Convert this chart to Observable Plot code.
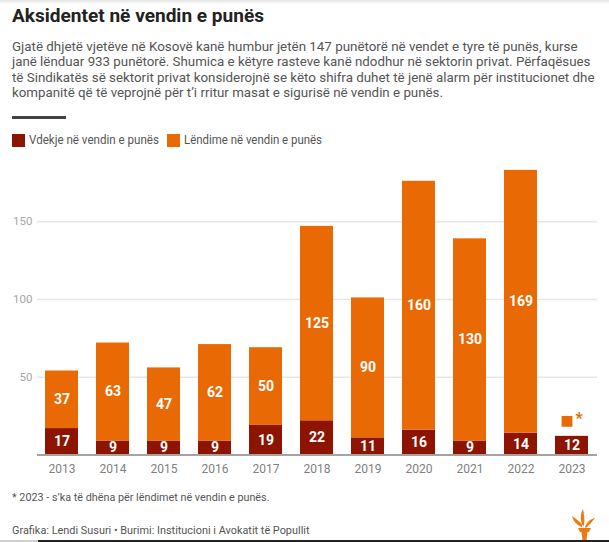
<!DOCTYPE html>
<html>
<head>
<meta charset="utf-8">
<script src="https://cdn.jsdelivr.net/npm/d3@7"></script>
<script src="https://cdn.jsdelivr.net/npm/@observablehq/plot@0.6"></script>
<style>
  html, body { margin:0; padding:0; background:#fff; }
  #wrap { position:relative; width:609px; height:542px; overflow:hidden; font-family:Roboto, "Noto Sans", sans-serif; }
  .t { position:absolute; left:12px; white-space:nowrap; display:inline-block; transform-origin:0 0; }
  #title { top:4.2px; font-size:19px; line-height:24px; font-weight:700; color:#222; }
  .sub { font-size:13px; line-height:15.5px; color:#555; }
  #sep { position:absolute; left:12px; top:116px; width:54px; height:3px; background:#3f4344; }
  .sw { position:absolute; top:134px; width:13px; height:13px; }
  .leg { font-size:12.5px; line-height:15px; color:#555; top:132.2px; }
  .foot { font-size:11px; line-height:13px; color:#555; }
  #chart { position:absolute; left:0; top:150px; }
  #topshade { position:absolute; left:0; top:0; width:609px; height:4px; background:linear-gradient(#e4e4e4, #fff); }
  #botl { position:absolute; left:0; top:540px; width:38px; height:2px; background:#d0d0d0; }
  #botd { position:absolute; left:38px; top:540px; width:571px; height:2px; background:#222; }
  #logo { position:absolute; left:569px; top:507px; }
</style>
</head>
<body>
<div id="wrap">
  <div id="topshade"></div>
  <div id="title" class="t" data-w="252">Aksidentet në vendin e punës</div>
  <div class="t sub" style="top:38.5px" data-w="565.5">Gjatë dhjetë vjetëve në Kosovë kanë humbur jetën 147 punëtorë në vendet e tyre të punës, kurse</div>
  <div class="t sub" style="top:54px" data-w="578.5">janë lënduar 933 punëtorë. Shumica e këtyre rasteve kanë ndodhur në sektorin privat. Përfaqësues</div>
  <div class="t sub" style="top:69.5px" data-w="582.5">të Sindikatës së sektorit privat konsiderojnë se këto shifra duhet të jenë alarm për institucionet dhe</div>
  <div class="t sub" style="top:85px" data-w="431">kompanitë që të veprojnë për t’i rritur masat e sigurisë në vendin e punës.</div>
  <div id="sep"></div>
  <div class="sw" style="left:12px;background:#8c1400"></div>
  <div class="t leg" style="left:29px" data-w="130">Vdekje në vendin e punës</div>
  <div class="sw" style="left:166.5px;background:#e96a05"></div>
  <div class="t leg" style="left:183.5px" data-w="138">Lëndime në vendin e punës</div>
  <div id="chart"></div>
  <div class="t foot" style="top:491.2px" data-w="257.5">* 2023 - s’ka të dhëna për lëndimet në vendin e punës.</div>
  <div class="t foot" style="top:524px" data-w="297.5">Grafika: Lendi Susuri • Burimi: Institucioni i Avokatit të Popullit</div>
  <svg id="logo" width="30" height="34" viewBox="0 0 30 34">
    <g fill="#ee7a12">
      <path d="M13 20 C8 18 4 14 3 9 C7 12 10 14 13 17 Z"/>
      <path d="M14 19 C11 14 11 7 14 2 C15 7 16 12 15 18 Z"/>
      <path d="M16 20 C18 15 21 12 26 11 C23 15 20 18 17 21 Z"/>
      <path d="M9 21 L22 21 L20 25 L11 25 Z"/>
      <path d="M12.5 25 L18.5 25 L17.5 33 L13.5 33 Z"/>
    </g>
  </svg>
  <div id="botl"></div>
  <div id="botd"></div>
</div>
<script>
// ---- data ----
const years = ["2013","2014","2015","2016","2017","2018","2019","2020","2021","2022","2023"];
const deaths = [17, 9, 9, 9, 19, 22, 11, 16, 9, 14, 12];
const injuries = [37, 63, 47, 62, 50, 125, 90, 160, 130, 169, null];
const series = ["Vdekje në vendin e punës", "Lëndime në vendin e punës"];
const colors = ["#8c1400", "#e96a05"];
const yTicks = [50, 100, 150];

// ---- table built from the arrays ----
const table = [];
years.forEach((yr, i) => {
  table.push({year: yr, series: series[0], value: deaths[i]});
  if (injuries[i] != null) table.push({year: yr, series: series[1], value: injuries[i]});
});
const missing = years.map((yr, i) => ({year: yr, value: deaths[i], inj: injuries[i]})).filter(d => d.inj == null);

const chart = Plot.plot({
  width: 609,
  height: 330,
  marginLeft: 37,
  marginRight: 12,
  marginTop: 9,
  marginBottom: 25.5,
  style: {fontFamily: "Roboto, 'Noto Sans', sans-serif", background: "transparent", overflow: "visible"},
  x: {type: "band", domain: years, paddingInner: 0.35, paddingOuter: 0.13, label: null},
  y: {domain: [0, 190], label: null},
  color: {domain: series, range: colors},
  marks: [
    Plot.gridY(yTicks, {stroke: "#e6e6e6", strokeOpacity: 1, strokeWidth: 1.5}),
    Plot.axisY(yTicks, {tickSize: 0, tickPadding: 5, fill: "#a6a6a6", fontSize: 11.5, label: null}),
    Plot.axisX({tickSize: 0, tickPadding: 9, fill: "#808080", fontSize: 12, label: null}),
    Plot.barY(table, {x: "year", y: "value", fill: "series", z: "series", order: series}),
    Plot.ruleY([0], {stroke: "#a3a3a3", strokeWidth: 2}),
    Plot.text(table, Plot.stackY({x: "year", y: "value", z: "series", order: series, text: d => String(d.value),
      fill: "white", fontWeight: "bold", fontSize: 14, style: "letter-spacing:-0.8px"})),
    Plot.dot(missing, {x: "year", y: "value", symbol: "square", r: 6.1, fill: colors[1], stroke: "none", dx: -5, dy: -15}),
    Plot.text(missing, {x: "year", y: "value", text: () => "*", fill: colors[1], fontWeight: "bold", fontSize: 16, dx: 7, dy: -17.5})
  ]
});
document.getElementById("chart").appendChild(chart);

// fit condensed-looking text to the reference widths
document.querySelectorAll(".t[data-w]").forEach(el => {
  const w = el.getBoundingClientRect().width;
  const target = +el.dataset.w;
  if (w > 0) el.style.transform = `scaleX(${target / w})`;
});
</script>
</body>
</html>
